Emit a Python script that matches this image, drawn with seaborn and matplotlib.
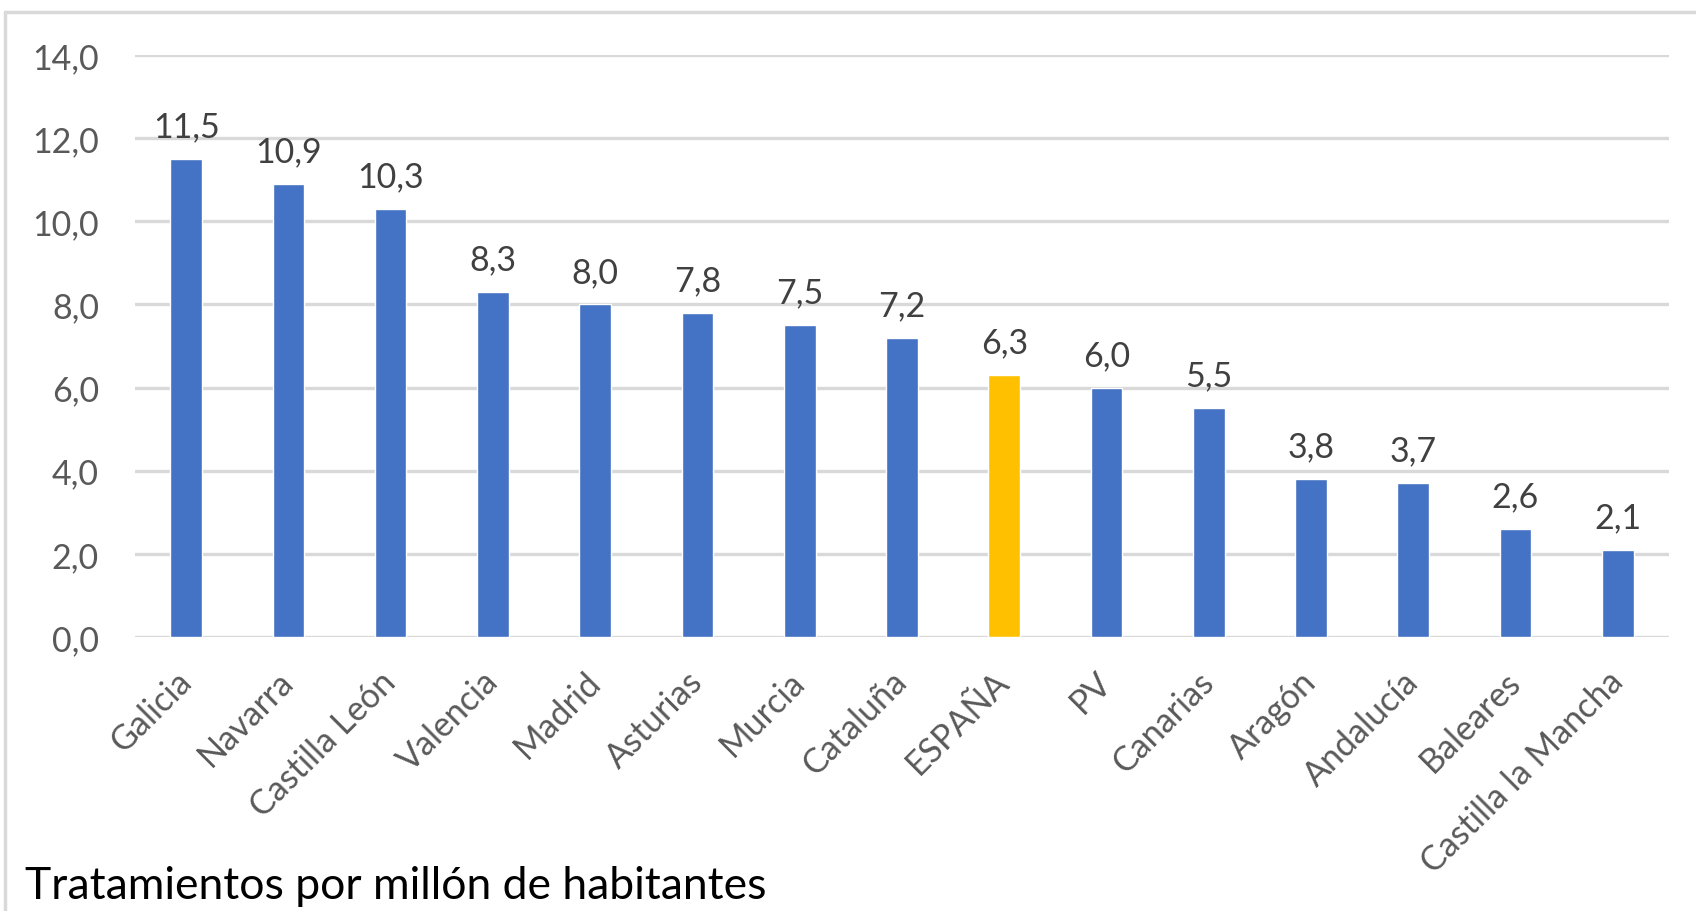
import matplotlib
matplotlib.use("Agg")
import matplotlib.pyplot as plt
import seaborn as sns
import pandas as pd
from matplotlib.lines import Line2D

regiones = ["Galicia", "Navarra", "Castilla León", "Valencia", "Madrid", "Asturias",
            "Murcia", "Cataluña", "ESPAÑA", "PV", "Canarias", "Aragón", "Andalucía",
            "Baleares", "Castilla la Mancha"]
tratamientos = [11.5, 10.9, 10.3, 8.3, 8.0, 7.8, 7.5, 7.2, 6.3, 6.0, 5.5, 3.8, 3.7, 2.6, 2.1]
yticks = [0, 2, 4, 6, 8, 10, 12, 14]
titulo = "Tratamientos por millón de habitantes"

azul = "#4472C4"
amarillo = "#FFC000"
colores = [amarillo if r == "ESPAÑA" else azul for r in regiones]

df = pd.DataFrame({"region": regiones, "valor": tratamientos})

sns.set_style("white")
plt.rcParams["font.family"] = ["Lato", "DejaVu Sans"]

fig = plt.figure(figsize=(16.96, 9.12), dpi=100)
ax = fig.add_axes([0.0796, 0.3004, 0.9044, 0.6382])

sns.barplot(data=df, x="region", y="valor", hue="region", palette=colores,
            legend=False, width=0.31, saturation=1, ax=ax)

ax.set_ylim(0, 14)
ax.set_xlim(-0.5, len(regiones) - 0.5)
ax.set_yticks(yticks)
ax.set_yticklabels([f"{v:.1f}".replace(".", ",") for v in yticks])
ax.yaxis.grid(True, color="#d9d9d9", linewidth=2.4)
ax.set_axisbelow(True)
for s in ax.spines.values():
    s.set_visible(False)
ax.tick_params(axis="y", length=0, pad=26, labelsize=24.5, labelcolor="#595959")
ax.tick_params(axis="x", length=0, pad=28, labelsize=24.5, labelcolor="#595959")
ax.set_xlabel("")
ax.set_ylabel("")
plt.setp(ax.get_xticklabels(), rotation=45, ha="right", va="center", rotation_mode="anchor")

# etiquetas de valor
for i, v in enumerate(tratamientos):
    ax.annotate(f"{v:.1f}".replace(".", ","), (i, v), xytext=(0, 12), textcoords="offset points",
                ha="center", va="bottom", fontsize=24.5, color="#404040")

fig.text(0.015, 0.006, titulo, fontsize=32, color="black", ha="left", va="bottom")

# marco gris del gráfico
fig.add_artist(Line2D([0.003, 1.0], [0.986, 0.986], color="#d9d9d9", linewidth=2.5, transform=fig.transFigure))
fig.add_artist(Line2D([0.003, 0.003], [0.0, 0.986], color="#d9d9d9", linewidth=2.5, transform=fig.transFigure))

fig.savefig("out.png", dpi=100)
